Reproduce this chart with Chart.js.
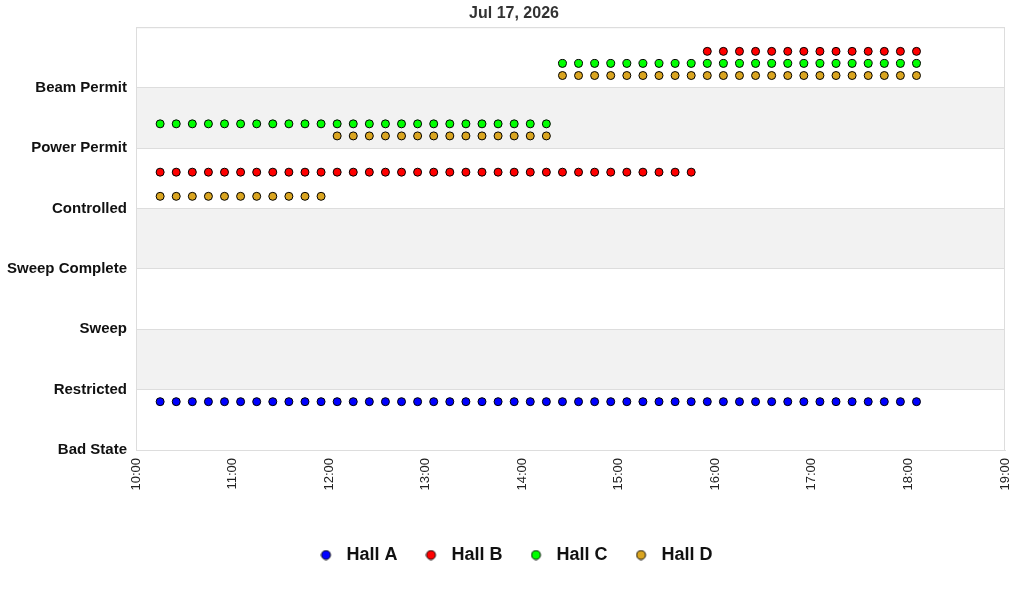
<!DOCTYPE html>
<html>
<head>
<meta charset="utf-8">
<script src="https://cdn.jsdelivr.net/npm/chart.js@4/dist/chart.umd.min.js"></script>
<style>
    html, body { margin: 0; padding: 0; background: #fff; }
    #wrap { width: 1024px; height: 600px; }
</style>
</head>
<body>
<div id="wrap"><canvas id="stateChart"></canvas></div>
<script>
'use strict';

var chartTitle = 'Jul 17, 2026';

var stateLabels = ['Bad State', 'Restricted', 'Sweep', 'Sweep Complete', 'Controlled', 'Power Permit', 'Beam Permit'];
var hourLabels = ['10:00', '11:00', '12:00', '13:00', '14:00', '15:00', '16:00', '17:00', '18:00', '19:00'];

var sampleTimes = [
    '10:15', '10:25', '10:35', '10:45', '10:55',
    '11:05', '11:15', '11:25', '11:35', '11:45', '11:55',
    '12:05', '12:15', '12:25', '12:35', '12:45', '12:55',
    '13:05', '13:15', '13:25', '13:35', '13:45', '13:55',
    '14:05', '14:15', '14:25', '14:35', '14:45', '14:55',
    '15:05', '15:15', '15:25', '15:35', '15:45', '15:55',
    '16:05', '16:15', '16:25', '16:35', '16:45', '16:55',
    '17:05', '17:15', '17:25', '17:35', '17:45', '17:55',
    '18:05'
];

var hallA = [
    0.8, 0.8, 0.8, 0.8, 0.8, 0.8, 0.8, 0.8, 0.8, 0.8, 0.8, 0.8,
    0.8, 0.8, 0.8, 0.8, 0.8, 0.8, 0.8, 0.8, 0.8, 0.8, 0.8, 0.8,
    0.8, 0.8, 0.8, 0.8, 0.8, 0.8, 0.8, 0.8, 0.8, 0.8, 0.8, 0.8,
    0.8, 0.8, 0.8, 0.8, 0.8, 0.8, 0.8, 0.8, 0.8, 0.8, 0.8, 0.8
];
var hallB = [
    4.6, 4.6, 4.6, 4.6, 4.6, 4.6, 4.6, 4.6, 4.6, 4.6, 4.6, 4.6,
    4.6, 4.6, 4.6, 4.6, 4.6, 4.6, 4.6, 4.6, 4.6, 4.6, 4.6, 4.6,
    4.6, 4.6, 4.6, 4.6, 4.6, 4.6, 4.6, 4.6, 4.6, 4.6, 6.6, 6.6,
    6.6, 6.6, 6.6, 6.6, 6.6, 6.6, 6.6, 6.6, 6.6, 6.6, 6.6, 6.6
];
var hallC = [
    5.4, 5.4, 5.4, 5.4, 5.4, 5.4, 5.4, 5.4, 5.4, 5.4, 5.4, 5.4,
    5.4, 5.4, 5.4, 5.4, 5.4, 5.4, 5.4, 5.4, 5.4, 5.4, 5.4, 5.4,
    5.4, 6.4, 6.4, 6.4, 6.4, 6.4, 6.4, 6.4, 6.4, 6.4, 6.4, 6.4,
    6.4, 6.4, 6.4, 6.4, 6.4, 6.4, 6.4, 6.4, 6.4, 6.4, 6.4, 6.4
];
var hallD = [
    4.2, 4.2, 4.2, 4.2, 4.2, 4.2, 4.2, 4.2, 4.2, 4.2, 4.2, 5.2,
    5.2, 5.2, 5.2, 5.2, 5.2, 5.2, 5.2, 5.2, 5.2, 5.2, 5.2, 5.2,
    5.2, 6.2, 6.2, 6.2, 6.2, 6.2, 6.2, 6.2, 6.2, 6.2, 6.2, 6.2,
    6.2, 6.2, 6.2, 6.2, 6.2, 6.2, 6.2, 6.2, 6.2, 6.2, 6.2, 6.2
];

var halls = [
    { name: 'Hall A', values: hallA, color: '#0000ff' },
    { name: 'Hall B', values: hallB, color: '#ff0000' },
    { name: 'Hall C', values: hallC, color: '#00ff00' },
    { name: 'Hall D', values: hallD, color: '#daa520' }
];

var FONT = '"Liberation Sans", Arial, sans-serif';
var GRID = '#dddddd';

// minutes since 10:00
var toMinutes = function(t) {
    var parts = t.split(':');
    return (parseInt(parts[0], 10) - 10) * 60 + parseInt(parts[1], 10);
};

// legend marker: circle on the left of a wider box, so the text sits further out
var legendMarker = function(color) {
    var c = document.createElement('canvas');
    c.width = 17;
    c.height = 11;
    var g = c.getContext('2d');
    g.beginPath();
    g.arc(5.5, 5.5, 4.5, 0, Math.PI * 2);
    g.fillStyle = color;
    g.fill();
    g.lineWidth = 1;
    g.strokeStyle = '#000';
    g.stroke();
    return c;
};

var bandsPlugin = {
    id: 'bands',
    afterLayout: function(chart) {
        // title and legend sit a little right of the canvas centre in the original
        chart.legend.left = 28;
        chart.legend.right = chart.chartArea.right;
        chart.titleBlock.left = 23;
        chart.titleBlock.right = chart.chartArea.right;
    },
    beforeDraw: function(chart) {
        var area = chart.chartArea, y = chart.scales.y, ctx = chart.ctx;
        ctx.save();
        ctx.fillStyle = '#f2f2f2';
        [1, 3, 5].forEach(function(lo) {
            var top = y.getPixelForValue(lo + 1), bottom = y.getPixelForValue(lo);
            ctx.fillRect(area.left, top, area.right - area.left, bottom - top);
        });
        ctx.restore();
    },
    beforeDatasetsDraw: function(chart) {
        var area = chart.chartArea, ctx = chart.ctx;
        ctx.save();
        ctx.strokeStyle = GRID;
        ctx.lineWidth = 1;
        ctx.strokeRect(area.left + 0.5, area.top + 0.5, area.right - area.left - 1, area.bottom - area.top);
        ctx.restore();
    }
};

var datasets = halls.map(function(h) {
    return {
        label: h.name,
        data: sampleTimes.map(function(t, i) { return { x: toMinutes(t), y: h.values[i] }; }),
        backgroundColor: h.color,
        borderColor: '#000',
        borderWidth: 1,
        pointRadius: 4,
        pointHoverRadius: 4,
        showLine: false
    };
});

new Chart(document.getElementById('stateChart'), {
    type: 'scatter',
    data: { datasets: datasets },
    plugins: [bandsPlugin],
    options: {
        responsive: true,
        maintainAspectRatio: false,
        animation: false,
        layout: { padding: { left: 0, right: 19, top: 0, bottom: 26 } },
        scales: {
            x: {
                type: 'linear',
                min: 0,
                max: 540,
                afterFit: function(scale) { scale.height = 68; },
                grid: { display: false },
                border: { display: true, color: GRID },
                ticks: {
                    stepSize: 60,
                    minRotation: 90,
                    maxRotation: 90,
                    padding: 0,
                    color: '#222',
                    font: { family: FONT, size: 13 },
                    callback: function(v) { return hourLabels[v / 60]; }
                }
            },
            y: {
                min: 0,
                max: 7,
                afterFit: function(scale) { scale.width = 136; },
                grid: { color: GRID, drawTicks: false },
                border: { display: true, color: GRID },
                ticks: {
                    stepSize: 1,
                    padding: 9,
                    color: '#111',
                    font: { family: FONT, size: 15, weight: 'bold' },
                    callback: function(v) { return stateLabels[v] || ''; }
                }
            }
        },
        plugins: {
            title: {
                display: true,
                text: chartTitle,
                color: '#333',
                padding: { top: 4, bottom: 4 },
                font: { family: FONT, size: 16, weight: 'bold' }
            },
            legend: {
                position: 'bottom',
                labels: {
                    usePointStyle: true,
                    pointStyleWidth: 17,
                    boxHeight: 11,
                    padding: 28,
                    color: '#111',
                    font: { family: FONT, size: 18, weight: 'bold' },
                    generateLabels: function(chart) {
                        var items = Chart.defaults.plugins.legend.labels.generateLabels(chart);
                        items.forEach(function(item, i) {
                            item.pointStyle = legendMarker(halls[i].color);
                        });
                        return items;
                    }
                }
            },
            tooltip: { enabled: false }
        }
    }
});
</script>
</body>
</html>
